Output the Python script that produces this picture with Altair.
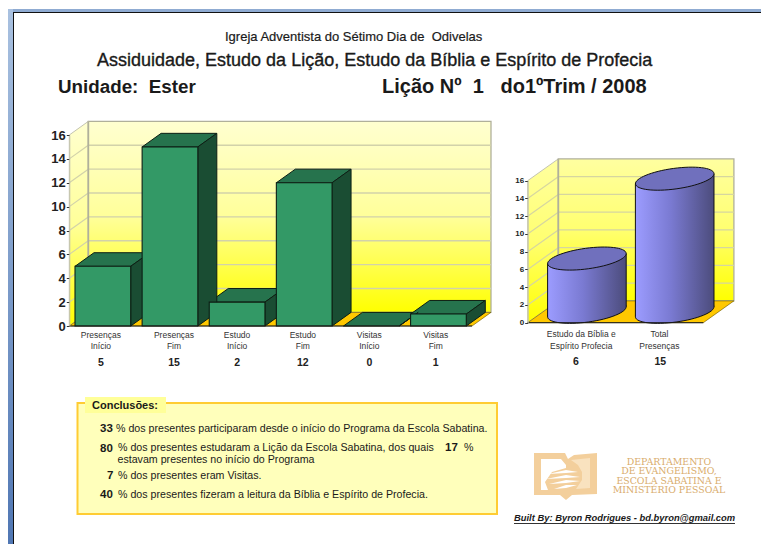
import math
import altair as alt
import pandas as pd

# ---------- data ----------
left_line1 = ["Presenças", "Presenças", "Estudo", "Estudo", "Visitas", "Visitas"]
left_line2 = ["Início", "Fim", "Início", "Fim", "Início", "Fim"]
left_values = [5, 15, 2, 12, 0, 1]
left_label_slots = [0.47, 1.56, 2.50, 3.48, 4.47, 5.46]

right_line1 = ["Estudo da Bíblia e", "Total"]
right_line2 = ["Espírito Profecia", "Presenças"]
right_values = [6, 15]
right_label_slots = [0.61, 1.50]
right_value_slots = [0.55, 1.51]

ticks = list(range(0, 17, 2))

# ---------- geometry of the pseudo-3D (not data) ----------
L_DX, L_DY = 0.283, 1.14
R_DX, R_DY = 0.3485, 2.456
BAR_PAD, BAR_W = 0.085, 0.83
CYL_HALF, CYL_TILT = 0.4476, 0.563
FONT = "Liberation Sans"
NB = "\u00a0"
ONE = pd.DataFrame({"k": [0]})


def P(v):  # page pixel -> chart pixel
    return v - 8


def wall_gradient(top, middle):
    return alt.Gradient(gradient="linear", x1=0, x2=0, y1=0, y2=1,
                        stops=[alt.GradientStop(color=top, offset=0),
                               alt.GradientStop(color=middle, offset=0.5),
                               alt.GradientStop(color="#ffff00", offset=1)])


def text(s, x, y, size=10, weight="normal", align="left", color="#1a1a1a", font=FONT, style=None, faux=0):
    kw = {"fontStyle": style} if style else {}
    if faux:
        kw.update(stroke=color, strokeWidth=faux)
    return alt.Chart(ONE).mark_text(text=s, fontSize=size, fontWeight=weight, align=align,
                                    baseline="middle", color=color, font=font, **kw).encode(
        x=alt.value(P(x)), y=alt.value(P(y)))


def box(x0, y0, x1, y1, **kw):
    return alt.Chart(ONE).mark_rect(**kw).encode(
        x=alt.value(P(x0)), x2=alt.value(P(x1)), y=alt.value(P(y0)), y2=alt.value(P(y1)))


def shape(pts_list, cx, cy, r, color):
    d = ""
    for pts in pts_list:
        d += "M" + "L".join(f"{(px-cx)/r:.3f},{(py-cy)/r:.3f}" for px, py in pts) + "Z"
    return alt.Chart(ONE).mark_point(shape=d, filled=True, fill=color, opacity=1, size=(2 * r) ** 2,
                                     strokeWidth=0).encode(x=alt.value(P(cx)), y=alt.value(P(cy)))


def walls(n, dx, dy, X, Y, top, middle, grid):
    """Back wall, side wall, floor and grid of a pseudo-3D plot with n slots."""
    layers = []
    back = pd.DataFrame({"x": [dx], "x2": [n + dx], "y": [dy], "y2": [16 + dy]})
    layers.append(alt.Chart(back).mark_rect(fill=wall_gradient(top, middle), stroke="#b0b09a", strokeWidth=1.3).encode(
        x=X, x2="x2:Q", y=Y, y2="y2:Q"))
    side = pd.DataFrame({"x": [0, dx], "y": [0, dy], "y2": [16, 16 + dy]})
    layers.append(alt.Chart(side).mark_area(fill=wall_gradient(top, middle), opacity=1, stroke="#c4c4b0", strokeWidth=1).encode(
        x=X, y=Y, y2="y2:Q"))
    gv = [t for t in ticks if 0 < t < 16]
    back_g = pd.DataFrame([{"k": t, "x": x, "y": t + dy} for t in gv for x in (dx, n + dx)])
    layers.append(alt.Chart(back_g).mark_line(color=grid, strokeWidth=1.4).encode(x=X, y=Y, detail="k:N"))
    side_g = pd.DataFrame([{"k": t, "x": x, "y": t + d} for t in gv for x, d in ((0, 0), (dx, dy))])
    layers.append(alt.Chart(side_g).mark_line(color=grid, strokeWidth=1.2).encode(x=X, y=Y, detail="k:N"))
    corner = pd.DataFrame({"x": [dx, dx], "y": [dy, 16 + dy]})
    layers.append(alt.Chart(corner).mark_line(color="#b0b09a", strokeWidth=1.8).encode(x=X, y=Y, order="y:Q"))
    floor = pd.DataFrame({"y": [0, dy], "x": [0, dx], "x2": [n, n + dx]})
    layers.append(alt.Chart(floor).mark_area(orient="horizontal", fill="#ffc800", opacity=1,
                                             stroke="#665500", strokeWidth=0.6).encode(
        y=Y, x=X, x2="x2:Q"))
    return layers


def labels(line1, line2, values, lab_slots, val_slots, X, size, val_size, y1, y2, y3):
    a = pd.DataFrame({"x": lab_slots, "a": line1, "b": line2})
    v = pd.DataFrame({"x": val_slots, "v": [str(t) for t in values]})
    common = dict(align="center", baseline="middle", font=FONT)
    return [
        alt.Chart(a).mark_text(fontSize=size, color="#333333", **common).encode(
            x=X, y=alt.value(P(y1)), text="a:N"),
        alt.Chart(a).mark_text(fontSize=size, color="#333333", **common).encode(
            x=X, y=alt.value(P(y2)), text="b:N"),
        alt.Chart(v).mark_text(fontSize=val_size, fontWeight="bold", color="#222222", **common).encode(
            x=X, y=alt.value(P(y3)), text="v:N"),
    ]


# ---------- left panel: 3D bars ----------
LX = alt.X("x:Q", axis=None, scale=alt.Scale(domain=[0, 6], range=[P(69.3), P(472)], nice=False, zero=False))
LY = alt.Y("y:Q", scale=alt.Scale(domain=[0, 16], range=[P(326), P(135)], nice=False, zero=False),
           axis=alt.Axis(title=None, orient="left", values=ticks, grid=False, offset=-P(69.3), tickSize=3, labelPadding=1,
                         labelFont=FONT, labelFontSize=13, labelFontWeight="bold", labelColor="#222222",
                         tickColor="#333333", domainColor="#c4c4b0", zindex=1))

left_layers = walls(6, L_DX, L_DY, LX, LY, "#ffffd0", "#ffff9a", "#d2d2aa")

tops = pd.DataFrame([{"k": i, "y": v + d, "x": i + BAR_PAD + s, "x2": i + BAR_PAD + BAR_W + s}
                     for i, v in enumerate(left_values) for d, s in ((0, 0), (L_DY, L_DX))])
left_layers.append(alt.Chart(tops).mark_area(orient="horizontal", fill="#26734d", opacity=1, stroke="#0d1f15",
                                             strokeWidth=1).encode(y=LY, x=LX, x2="x2:Q", detail="k:N"))
sides = pd.DataFrame([{"k": i, "x": i + BAR_PAD + BAR_W + s, "y": d, "y2": v + d}
                      for i, v in enumerate(left_values) for d, s in ((0, 0), (L_DY, L_DX))])
left_layers.append(alt.Chart(sides).mark_area(fill="#1a4d33", opacity=1, stroke="#0d1f15",
                                              strokeWidth=1).encode(x=LX, y=LY, y2="y2:Q", detail="k:N"))
fronts = pd.DataFrame([{"x": i + BAR_PAD, "x2": i + BAR_PAD + BAR_W, "y": 0, "y2": v}
                       for i, v in enumerate(left_values) if v > 0])
left_layers.append(alt.Chart(fronts).mark_rect(fill="#339966", stroke="#0d1f15", strokeWidth=1.1).encode(
    x=LX, x2="x2:Q", y=LY, y2="y2:Q"))
base = pd.DataFrame({"x": [0, 6], "y": [0, 0]})
left_layers.append(alt.Chart(base).mark_line(color="#1a1a1a", strokeWidth=1).encode(x=LX, y=LY))
left_layers += labels(left_line1, left_line2, left_values, left_label_slots, left_label_slots, LX,
                      8.5, 10.5, 334.5, 346, 362.5)
left_panel = alt.layer(*left_layers)

# ---------- right panel: 3D cylinders ----------
RX = alt.X("x:Q", axis=None, scale=alt.Scale(domain=[0, 2], range=[P(527.7), P(703.3)], nice=False, zero=False))
RY = alt.Y("y:Q", scale=alt.Scale(domain=[0, 16], range=[P(322.7), P(180.7)], nice=False, zero=False),
           axis=alt.Axis(title=None, orient="left", values=ticks, grid=False, offset=-P(527.7), tickSize=3, labelPadding=1,
                         labelFont=FONT, labelFontSize=8, labelFontWeight="bold", labelColor="#222222",
                         tickColor="#333333", domainColor="#c4c4b0", zindex=1))

right_layers = walls(2, R_DX, R_DY, RX, RY, "#ffffa0", "#ffff70", "#d6d6a0")

A, B, TH = 1.0, 10.3 / 39.6, math.radians(7.8)
K = 0.5523


def rot(x, y):
    return (A * x * math.cos(TH) + B * y * math.sin(TH), -A * x * math.sin(TH) + B * y * math.cos(TH))


ctrl = [(1, 0), (1, K), (K, 1), (0, 1), (-K, 1), (-1, K), (-1, 0), (-1, -K), (-K, -1), (0, -1), (K, -1), (1, -K), (1, 0)]
pp = [rot(*c) for c in ctrl]
ell = f"M{pp[0][0]:.4f},{pp[0][1]:.4f}"
for i in range(1, 13, 3):
    ell += "C" + " ".join(f"{p[0]:.4f},{p[1]:.4f}" for p in pp[i:i + 3])
ell += "Z"
ELL_SIZE = (2 * 39.6) ** 2

body_grad = alt.Gradient(gradient="linear", x1=0, x2=1, y1=0, y2=0,
                         stops=[alt.GradientStop(color="#9c9cff", offset=0),
                                alt.GradientStop(color="#7a7ad2", offset=0.45),
                                alt.GradientStop(color="#4c4c7c", offset=1)])
cyl_center = [i + 0.5 + R_DX / 2 for i in range(2)]
mid = R_DY / 2
bottoms = pd.DataFrame({"x": cyl_center, "y": [mid, mid]})
right_layers.append(alt.Chart(bottoms).mark_point(shape=ell, filled=True, fill=body_grad, opacity=1, size=ELL_SIZE,
                                                  stroke="#111111", strokeWidth=1).encode(x=RX, y=RY))
bodies = pd.DataFrame([{"k": i, "x": c + s * CYL_HALF, "y": mid + v + s * CYL_TILT, "y2": mid + s * CYL_TILT}
                       for i, (c, v) in enumerate(zip(cyl_center, right_values)) for s in (-1, 1)])
right_layers.append(alt.Chart(bodies).mark_area(fill=body_grad, opacity=1, strokeWidth=0).encode(
    x=RX, y=RY, y2="y2:Q", detail="k:N"))
edges = pd.DataFrame([{"k": f"{i}{s}", "x": c + s * CYL_HALF, "y": mid + d + s * CYL_TILT}
                      for i, (c, v) in enumerate(zip(cyl_center, right_values)) for s in (-1, 1) for d in (0, v)])
right_layers.append(alt.Chart(edges).mark_line(color="#111111", strokeWidth=1).encode(
    x=RX, y=RY, detail="k:N", order="y:Q"))
cyl_tops = pd.DataFrame({"x": cyl_center, "y": [mid + v for v in right_values]})
right_layers.append(alt.Chart(cyl_tops).mark_point(shape=ell, filled=True, fill="#7070bd", opacity=1, size=ELL_SIZE,
                                                   stroke="#111111", strokeWidth=1).encode(x=RX, y=RY))
base_r = pd.DataFrame({"x": [0, 2], "y": [0, 0]})
right_layers.append(alt.Chart(base_r).mark_line(color="#1a1a1a", strokeWidth=1).encode(x=RX, y=RY))
right_layers += labels(right_line1, right_line2, right_values, right_label_slots, right_value_slots, RX,
                       8.5, 10.5, 334, 346, 362)
right_panel = alt.layer(*right_layers)

# ---------- page decoration ----------
band = alt.Gradient(gradient="linear", x1=0, x2=0, y1=0, y2=1,
                    stops=[alt.GradientStop(color="#a9c1e0", offset=0), alt.GradientStop(color="#4f76b3", offset=1)])
frame = [
    box(8, 9, 769, 12, fill="#8fabd2"),
    box(8, 9, 13, 552, fill=band),
    box(13, 12, 769, 13, fill="#111111"),
    box(13, 12, 14, 552, fill="#111111"),
]

heading = [
    text(f"Igreja Adventista do Sétimo Dia de {NB}Odivelas", 225, 36.5, size=13, faux=0.2),
    text("Assiduidade, Estudo da Lição, Estudo da Bíblia e Espírito de Profecia", 97, 61, size=18, faux=0.35),
    text(f"Unidade: {NB}Ester", 58, 87, size=18.8, weight="bold"),
    text(f"Lição Nº {NB}1 {NB}{NB}do1ºTrim / 2008", 382, 87, size=20, weight="bold"),
]

notes = [
    box(77.5, 403, 497, 514, fill="#ffffbb", stroke="#ffcc33", strokeWidth=2),
    box(85, 397, 166, 413, fill="#ffff99"),
    text("Conclusões:", 92, 405.5, size=11, weight="bold"),
    text("33", 100, 429, size=11.5, weight="bold"),
    text("% dos presentes participaram desde o início do Programa da Escola Sabatina.", 116, 429, size=10.65),
    text("80", 100, 448.5, size=11.5, weight="bold"),
    text("% dos presentes estudaram a Lição da Escola Sabatina, dos quais", 118, 448, size=10.65),
    text("17", 445, 448, size=11.5, weight="bold"),
    text("%", 464, 448, size=10.65),
    text("estavam presentes no início do Programa", 117.5, 460, size=10.65),
    text("7", 107, 476, size=11.5, weight="bold"),
    text("% dos presentes eram Visitas.", 118, 476, size=10.65),
    text("40", 100, 495, size=11.5, weight="bold"),
    text("% dos presentes fizeram a leitura da Bíblia e Espírito de Profecia.", 118, 495, size=10.65),
]

TAN = "#f3cf9c"
CX, CY, R = 565.5, 476.5, 35
logo = [
    shape([[(534, 453), (565, 453), (568, 459), (574, 455), (597, 453), (597, 494), (572, 495),
            (566, 500), (560, 495), (534, 495)]], CX, CY, R, TAN),
    shape([[(541, 459), (561, 459), (566, 465), (566, 468), (552, 472), (545, 482), (548, 490), (541, 490)]],
          CX, CY, R, "#ffffff"),
    shape([[(571, 460), (590, 458), (590, 488), (576, 489), (582, 480), (582, 472), (578, 465)]],
          CX, CY, R, "#f9e2bf"),
    shape([[(548, 474), (566, 470), (578, 472), (566, 473)]], CX, CY, R, "#ffffff"),
    shape([[(546, 479), (566, 475), (580, 477), (566, 478)]], CX, CY, R, "#ffffff"),
    shape([[(549, 484), (566, 480), (580, 481), (566, 483)]], CX, CY, R, "#ffffff"),
    shape([[(554, 489), (566, 485), (577, 485), (566, 488)]], CX, CY, R, "#ffffff"),
]
SERIF = "DejaVu Serif"
logo_text = [
    text("DEPARTAMENTO", 669, 461.5, size=9.4, align="center", color="#d9ac6c", font=SERIF),
    text("DE EVANGELISMO,", 669, 471, size=9.4, align="center", color="#d9ac6c", font=SERIF),
    text("ESCOLA SABATINA E", 669, 480.5, size=9.4, align="center", color="#d9ac6c", font=SERIF),
    text("MINISTÉRIO PESSOAL", 669, 490, size=9.4, align="center", color="#d9ac6c", font=SERIF),
]
credit = [
    text("Built By: Byron Rodrigues - bd.byron@gmail.com", 514, 518, size=9.4, weight="bold", style="italic"),
    box(514, 523, 735, 524, fill="#333333"),
]

chart = alt.layer(
    *frame, *heading, left_panel, right_panel, *notes, *logo, *logo_text, *credit
).resolve_scale(x="independent", y="independent").properties(
    width=753, height=536, padding=0, autosize=alt.AutoSizeParams(type="none")
).configure_view(stroke=None)

chart.save("out.html", embed_options={"renderer": "svg", "actions": False})
